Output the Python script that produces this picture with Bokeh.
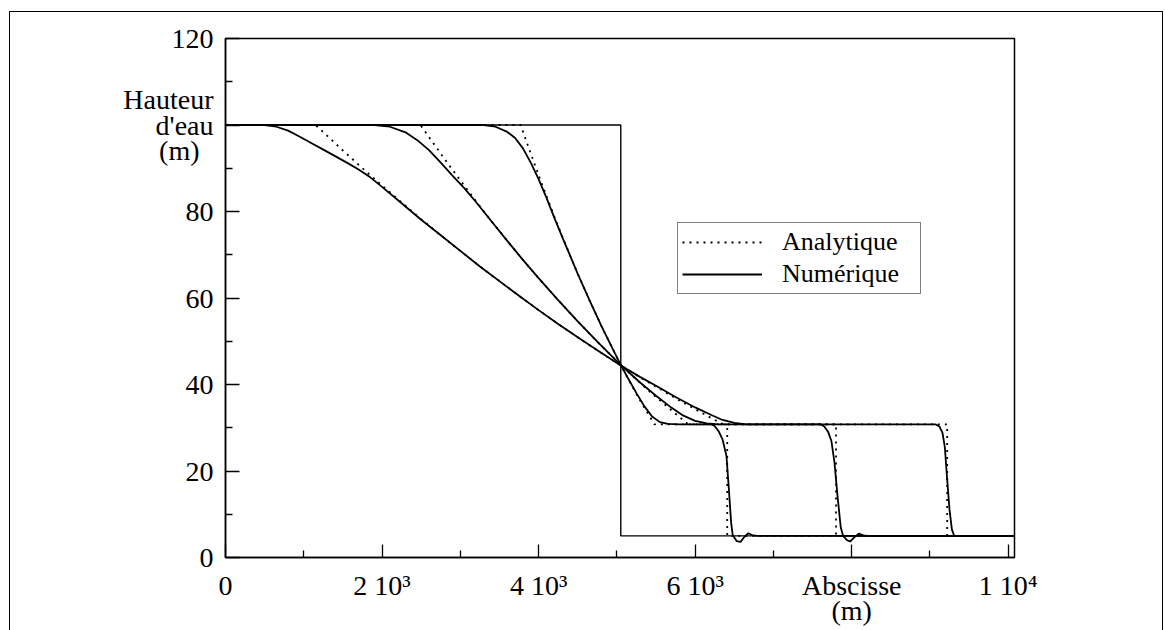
from bokeh.plotting import figure
from bokeh.models import Range1d, FixedTicker, Legend, LegendItem
from bokeh.embed import file_html
from bokeh.resources import INLINE

# ---------------- data ----------------
# initial condition (dam break)
x_init = [0, 5050, 5050, 10080]
h_init = [100, 100, 5, 5]

# analytic solutions at three times
x_ana_1 = [0, 3770, 3900, 4000, 4100, 4200, 4300, 4400, 4500, 4650, 4800, 4950, 5050,
           5150, 5250, 5350, 5480, 6410, 6410, 10080]
h_ana_1 = [100, 100, 93.4, 88.4, 83.6, 78.9, 74.3, 69.9, 65.6, 59.5, 53.6, 48.1, 44.5,
           41.1, 37.8, 34.7, 30.8, 30.8, 5, 5]

x_ana_2 = [0, 2490, 2600, 2800, 3000, 3200, 3400, 3600, 3800, 4000, 4250, 4500, 4750,
           5050, 5300, 5500, 5700, 5910, 7800, 7800, 10080]
h_ana_2 = [100, 100, 97.2, 92.1, 87.2, 82.4, 77.7, 73.2, 68.8, 64.6, 59.5, 54.6, 49.9,
           44.5, 40.3, 37.1, 34.0, 30.8, 30.8, 5, 5]

x_ana_3 = [0, 1150, 1300, 1500, 1750, 2000, 2250, 2500, 2750, 3000, 3250, 3500, 3750,
           4000, 4250, 4500, 4750, 5050, 5300, 5500, 5750, 6000, 6200, 6360, 9220, 9220, 10080]
h_ana_3 = [100, 100, 97.5, 94.1, 90.0, 86.0, 82.1, 78.2, 74.5, 70.9, 67.3, 63.9, 60.5,
           57.2, 54.0, 50.9, 47.9, 44.4, 41.6, 39.5, 36.8, 34.3, 32.3, 30.8, 30.8, 5, 5]

# numerical solutions at the same three times
x_num_1 = [0, 3300, 3450, 3600, 3700, 3800, 3900, 4000, 4100, 4200, 4300, 4400, 4500,
           4650, 4800, 4950, 5050, 5150, 5250, 5350, 5450, 5550, 5650, 5800, 6200, 6250,
           6300, 6350, 6400, 6430, 6460, 6480, 6530, 6580, 6630, 6680, 6740, 6800, 10080]
h_num_1 = [100, 100, 99.6, 98.4, 97.0, 94.6, 91.3, 87.5, 83.2, 78.6, 74.2, 69.9, 65.6,
           59.5, 53.6, 48.1, 44.5, 41.2, 38.0, 35.0, 32.6, 31.3, 30.9, 30.8, 30.8, 30.4,
           29.2, 27.3, 23.5, 16.0, 8.0, 5.2, 3.8, 3.6, 4.8, 5.6, 5.1, 5.0, 5.0]

x_num_2 = [0, 1900, 2100, 2300, 2450, 2600, 2750, 2900, 3050, 3200, 3400, 3600, 3800,
           4000, 4250, 4500, 4750, 5050, 5300, 5500, 5700, 5850, 6000, 6150, 6300, 7600,
           7650, 7700, 7740, 7780, 7820, 7860, 7890, 7940, 7980, 8030, 8090, 8150, 8200, 10080]
h_num_2 = [100, 100, 99.6, 98.3, 96.5, 94.2, 91.3, 88.3, 85.4, 82.2, 77.7, 73.2, 68.8,
           64.6, 59.5, 54.6, 49.9, 44.5, 40.4, 37.4, 34.6, 32.8, 31.6, 31.0, 30.8, 30.8,
           30.3, 29.0, 27.0, 22.0, 14.0, 7.0, 5.0, 4.0, 3.7, 4.6, 5.5, 5.1, 5.0, 5.0]

x_num_3 = [0, 500, 650, 800, 950, 1100, 1250, 1400, 1550, 1700, 1850, 2000, 2250, 2500,
           2750, 3000, 3250, 3500, 3750, 4000, 4250, 4500, 4750, 5050, 5300, 5500, 5750,
           6000, 6200, 6350, 6500, 6650, 9070, 9120, 9160, 9190, 9220, 9250, 9280, 9310, 10080]
h_num_3 = [100, 100, 99.6, 98.7, 97.3, 95.8, 94.3, 92.8, 91.3, 89.7, 87.9, 85.7, 81.9, 78.1,
           74.5, 70.9, 67.3, 63.9, 60.5, 57.2, 54.0, 50.9, 47.9, 44.4, 41.7, 39.7, 37.1,
           34.7, 33.0, 31.8, 31.1, 30.8, 30.8, 30.3, 28.8, 25.5, 18.0, 11.0, 6.5, 5.0, 5.0]

# axis ticks and labels (axis titles sit in place of the 100 and 8000 labels)
x_major = [0, 2000, 4000, 6000, 8000, 10000]
x_minor = [1000, 3000, 5000, 7000, 9000]
x_labels = {0: "0", 2000: "2 10³", 4000: "4 10³", 6000: "6 10³",
            8000: "Abscisse\n(m)", 10000: "1 10⁴"}
y_major = [0, 20, 40, 60, 80, 100, 120]
y_minor = [10, 30, 50, 70, 90, 110]
y_labels = {0: "0", 20: "20", 40: "40", 60: "60", 80: "80",
            100: "Hauteur\nd'eau\n(m)\u00a0\u00a0", 120: "120"}

legend_labels = ["Analytique", "Numérique"]

# ---------------- figure ----------------
FONT = "Liberation Serif"

p = figure(width=1152, height=618, output_backend="svg", toolbar_location=None,
           x_range=Range1d(0, 10080), y_range=Range1d(0, 120),
           min_border_left=215, min_border_right=148, min_border_top=26,
           min_border_bottom=73)
p.margin = (12, 0, 0, 10)
p.styles = {"outline": "1.5px solid black"}
p.grid.visible = False
p.background_fill_color = "white"
p.border_fill_color = "white"
p.outline_line_color = "black"
p.outline_line_width = 1.5
p.outline_line_alpha = 1.0

for ax in (p.xaxis[0], p.yaxis[0]):
    ax.axis_line_color = "black"
    ax.axis_line_width = 1.5
    ax.major_tick_line_color = "black"
    ax.minor_tick_line_color = "black"
    ax.major_tick_line_width = 1.3
    ax.minor_tick_line_width = 1.3
    ax.major_tick_out = 0
    ax.minor_tick_out = 0
    ax.major_label_text_font = FONT
    ax.major_label_text_font_size = "28px"
    ax.major_label_text_color = "black"
    ax.major_label_text_line_height = 0.82

p.xaxis[0].ticker = FixedTicker(ticks=x_major, minor_ticks=x_minor)
p.xaxis[0].major_label_overrides = x_labels
p.xaxis[0].major_tick_in = 13
p.xaxis[0].minor_tick_in = 7
p.xaxis[0].major_label_standoff = 12

p.yaxis[0].ticker = FixedTicker(ticks=y_major, minor_ticks=y_minor)
p.yaxis[0].major_label_overrides = y_labels
p.yaxis[0].major_tick_in = 14
p.yaxis[0].minor_tick_in = 7
p.yaxis[0].major_label_standoff = 12

LW = 1.8
DOT = "2 5"

p.line(x_init, h_init, line_color="black", line_width=1.4)
rn1 = p.line(x_num_1, h_num_1, line_color="black", line_width=LW)
p.line(x_num_2, h_num_2, line_color="black", line_width=LW)
p.line(x_num_3, h_num_3, line_color="black", line_width=LW)
ra1 = p.line(x_ana_1, h_ana_1, line_color="black", line_width=LW, line_dash=DOT)
p.line(x_ana_2, h_ana_2, line_color="black", line_width=LW, line_dash=DOT)
p.line(x_ana_3, h_ana_3, line_color="black", line_width=LW, line_dash=DOT)

legend = Legend(items=[LegendItem(label=legend_labels[0], renderers=[ra1]),
                       LegendItem(label=legend_labels[1], renderers=[rn1])],
                location=(452, 263))
legend.label_text_font = FONT
legend.label_text_font_size = "26px"
legend.label_text_line_height = 0.95
legend.label_text_color = "black"
legend.glyph_width = 80
legend.glyph_height = 26
legend.label_height = 26
legend.label_width = 134
legend.label_standoff = 20
legend.spacing = 2
legend.padding = 4
legend.margin = 0
legend.border_line_color = "black"
legend.border_line_width = 1.5
legend.background_fill_color = "white"
legend.background_fill_alpha = 1.0
p.add_layout(legend)

open("out.html", "w").write(file_html(p, INLINE))
